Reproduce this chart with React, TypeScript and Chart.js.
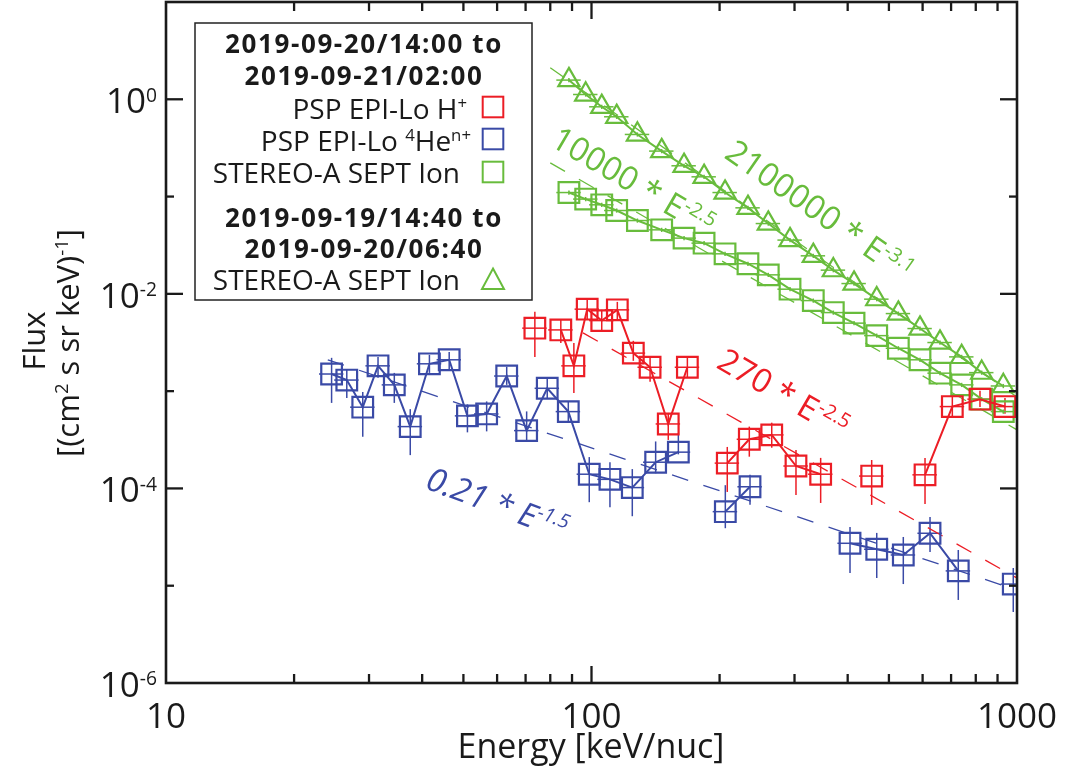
import { useEffect, useRef } from 'react';
import { Chart, registerables } from 'chart.js';

Chart.register(...registerables);

const FONT = '"Open Sans", "Noto Sans", sans-serif';
const BLUE = '#3a4aa6';
const RED = '#ec1d25';
const GREEN = '#68bc3c';
const INK = '#1a1a1a';

// ---------------- PSP EPI-Lo H+ ----------------
const H_ENERGY = [73.6, 84.7, 90.9, 97.7, 105.7, 115.0, 125.4, 137.3, 151.5, 168.0, 208.5, 234.9, 265.2, 302.4, 345.6, 455.5, 607.9, 704.7, 818.5, 937];
const H_FLUX = [4.44e-3, 4.26e-3, 1.82e-3, 6.96e-3, 5.31e-3, 6.85e-3, 2.46e-3, 1.76e-3, 4.6e-4, 1.76e-3, 1.82e-4, 3.2e-4, 3.55e-4, 1.7e-4, 1.4e-4, 1.34e-4, 1.38e-4, 6.94e-4, 8.27e-4, 6.94e-4];
const H_FLUX_HI = [6.53e-3, 5.4e-3, 3.13e-3, 8.68e-3, 6.85e-3, 8.27e-3, 3.29e-3, 2.25e-3, 5.97e-4, 2.2e-3, 2.67e-4, 4.32e-4, 4.74e-4, 2.49e-4, 2.06e-4, 1.96e-4, 2.06e-4, 8.73e-4, 1.01e-3, 8.52e-4];
const H_FLUX_LO = [2.25e-3, 3.13e-3, 9.59e-4, 5.4e-3, 4.07e-3, 5.4e-3, 2.05e-3, 1.25e-3, 3.15e-4, 1.37e-3, 9.2e-5, 2.12e-4, 2.62e-4, 8.57e-5, 7.09e-5, 6.77e-5, 6.93e-5, 5.44e-4, 6.89e-4, 5.84e-4];
const H_GROUP = [0, 1, 1, 1, 1, 1, 1, 1, 1, 1, 2, 2, 2, 2, 2, 3, 4, 4, 4, 4];

// ---------------- PSP EPI-Lo 4He n+ ----------------
const HE_ENERGY = [24.5, 26.6, 29.0, 31.5, 34.4, 37.5, 41.6, 46.3, 51.1, 56.7, 63.2, 70.4, 78.7, 88.2, 98.8, 110.5, 124.7, 141.5, 160.0, 206.3, 235.8, 405.1, 468.1, 540.5, 624.6, 727.8, 980];
const HE_FLUX = [1.5e-3, 1.3e-3, 6.84e-4, 1.82e-3, 1.16e-3, 4.32e-4, 1.91e-3, 2.1e-3, 5.57e-4, 5.83e-4, 1.43e-3, 3.93e-4, 1.07e-3, 6.16e-4, 1.4e-4, 1.24e-4, 1.02e-4, 1.86e-4, 2.36e-4, 5.77e-5, 1.04e-4, 2.73e-5, 2.37e-5, 2.07e-5, 3.46e-5, 1.42e-5, 1.04e-5];
const HE_FLUX_HI = [2.2e-3, 1.65e-3, 9.82e-4, 2.25e-3, 1.54e-3, 6.53e-4, 2.36e-3, 2.53e-3, 7.31e-4, 7.84e-4, 1.78e-3, 6.19e-4, 1.37e-3, 7.84e-4, 2.1e-4, 1.86e-4, 1.58e-4, 3.04e-4, 3.68e-4, 1.08e-4, 1.38e-4, 4.02e-5, 3.49e-5, 3.17e-5, 5.09e-5, 2.33e-5, 1.52e-5];
const HE_FLUX_LO = [7.57e-4, 8.52e-4, 3.39e-4, 1.37e-3, 7.57e-4, 2.2e-4, 1.54e-3, 1.69e-3, 3.77e-4, 3.86e-4, 1.16e-3, 3.04e-4, 8.52e-4, 4.89e-4, 7.22e-5, 6.42e-5, 5.18e-5, 1.43e-4, 2.24e-4, 3.9e-5, 6.81e-5, 1.35e-5, 1.2e-5, 1.04e-5, 2.22e-5, 7.14e-6, 5.37e-6];
const HE_GROUP = [0, 0, 0, 0, 0, 0, 0, 0, 0, 0, 0, 0, 0, 0, 0, 0, 0, 0, 0, 1, 1, 2, 2, 2, 2, 2, 3];

// ---------------- STEREO-A SEPT Ion ----------------
const SEPT_ENERGY = [88.5, 96.9, 105.7, 114.6, 128.2, 146.2, 165.0, 183.9, 206.0, 233.2, 260.3, 292.8, 332.1, 370.1, 414.0, 468.1, 526.2, 591.6, 659.2, 741.3, 826.0, 928.6];
// 2019-09-20/14:00 to 2019-09-21/02:00 (squares)
const SEPT_FLUX_A = [0.11, 0.0942, 0.0823, 0.0719, 0.0567, 0.0455, 0.0374, 0.0332, 0.0258, 0.0204, 0.01568, 0.01117, 8.53e-3, 6.42e-3, 5.0e-3, 3.72e-3, 2.76e-3, 2.1e-3, 1.53e-3, 1.16e-3, 8.27e-4, 6.16e-4];
// 2019-09-19/14:40 to 2019-09-20/06:40 (triangles)
const SEPT_FLUX_B = [1.575, 1.12, 0.837, 0.661, 0.435, 0.2934, 0.2072, 0.1596, 0.11, 0.0766, 0.0528, 0.0357, 0.0246, 0.01753, 0.01276, 8.82e-3, 6.27e-3, 4.4e-3, 3.16e-3, 2.25e-3, 1.55e-3, 1.13e-3];
const SEPT_REL_ERR = 0.05;
const ENERGY_HALF_BIN = 0.066;

// ---------------- power-law fits (end points) ----------------
const FIT_HE_E = [24.0, 1000];
const FIT_HE_F = [2.1e-3, 9.0e-6];
const FIT_H_E = [95.5, 1000];
const FIT_H_F = [3.97e-3, 1.2e-5];
const FIT_A_E = [80, 1000];
const FIT_A_F = [0.222, 4.0e-4];
const FIT_B_E = [80, 1000];
const FIT_B_F = [2.11, 8.7e-4];

// ---------------- axes ----------------
const X_MIN = 10;
const X_MAX = 1000;
const Y_MIN = 1e-6;
const Y_MAX = 10;
const X_TICKS = [10, 20, 30, 40, 50, 60, 70, 80, 90, 100, 200, 300, 400, 500, 600, 700, 800, 900, 1000];
const X_LABELS = [10, 100, 1000];
const Y_EXPONENTS = [1, 0, -1, -2, -3, -4, -5, -6];
const Y_LABEL_EXPONENTS = [0, -2, -4, -6];

type Part = { t: string; sup?: boolean };
type RichOpts = { weight?: string; style?: string; align?: 'left' | 'center' | 'right'; supScale?: number; supRise?: number; spacing?: number };

function fontStr(size: number, o: RichOpts) {
  return `${o.style || 'normal'} ${o.weight || 'normal'} ${size}px ${FONT}`;
}

function richWidth(ctx: CanvasRenderingContext2D, parts: Part[], size: number, o: RichOpts) {
  const ss = o.supScale ?? 0.6;
  let w = 0;
  for (const p of parts) {
    ctx.font = fontStr(p.sup ? size * ss : size, o);
    w += ctx.measureText(p.t).width;
  }
  return w;
}

function drawRich(ctx: CanvasRenderingContext2D, parts: Part[], x: number, y: number, size: number, o: RichOpts = {}) {
  ctx.save();
  (ctx as any).letterSpacing = `${o.spacing ?? 0}px`;
  ctx.textBaseline = 'alphabetic';
  ctx.textAlign = 'left';
  const ss = o.supScale ?? 0.6;
  const rise = o.supRise ?? 0.34;
  const w = richWidth(ctx, parts, size, o);
  let cx = x;
  if (o.align === 'center') cx = x - w / 2;
  if (o.align === 'right') cx = x - w;
  for (const p of parts) {
    const s = p.sup ? size * ss : size;
    ctx.font = fontStr(s, o);
    ctx.fillText(p.t, cx, p.sup ? y - size * rise : y);
    cx += ctx.measureText(p.t).width;
  }
  ctx.restore();
}

function seg(ctx: CanvasRenderingContext2D, x1: number, y1: number, x2: number, y2: number) {
  ctx.beginPath();
  ctx.moveTo(x1, y1);
  ctx.lineTo(x2, y2);
  ctx.stroke();
}

const ANNOTATIONS = [
  { parts: [{ t: '0.21 * E' }, { t: '-1.5', sup: true }], color: BLUE, x: 424, y: 488, angle: 20.6, style: 'italic' },
  { parts: [{ t: '270 * E' }, { t: '-2.5', sup: true }], color: RED, x: 715, y: 367, angle: 30, style: 'normal' },
  { parts: [{ t: '10000 * E' }, { t: '-2.5', sup: true }], color: GREEN, x: 549, y: 145, angle: 30.5, style: 'normal' },
  { parts: [{ t: '2100000 * E' }, { t: '-3.1', sup: true }], color: GREEN, x: 723, y: 157, angle: 35, style: 'normal' },
];

const customPlugin = {
  id: 'customDraw',
  beforeDatasetsDraw(chart: any) {
    const { ctx, chartArea: a } = chart;
    const xs = chart.scales.x;
    const ys = chart.scales.y;
    ctx.save();
    ctx.beginPath();
    ctx.rect(a.left, a.top, a.right - a.left, a.bottom - a.top);
    ctx.clip();
    const bars = (E: number[], F: number[], LO: number[] | null, HI: number[] | null, color: string) => {
      ctx.strokeStyle = color;
      ctx.lineWidth = 1.5;
      E.forEach((e, i) => {
        const px = xs.getPixelForValue(e);
        const py = ys.getPixelForValue(F[i]);
        const lo = LO ? LO[i] : F[i] * (1 - SEPT_REL_ERR);
        const hi = HI ? HI[i] : F[i] * (1 + SEPT_REL_ERR);
        seg(ctx, px, ys.getPixelForValue(lo), px, ys.getPixelForValue(hi));
        seg(ctx, xs.getPixelForValue(e * (1 - ENERGY_HALF_BIN)), py, xs.getPixelForValue(e * (1 + ENERGY_HALF_BIN)), py);
      });
    };
    bars(HE_ENERGY, HE_FLUX, HE_FLUX_LO, HE_FLUX_HI, BLUE);
    bars(H_ENERGY, H_FLUX, H_FLUX_LO, H_FLUX_HI, RED);
    bars(SEPT_ENERGY, SEPT_FLUX_A, null, null, GREEN);
    bars(SEPT_ENERGY, SEPT_FLUX_B, null, null, GREEN);
    ctx.restore();
  },
  afterDraw(chart: any) {
    const { ctx, chartArea: a } = chart;
    const xs = chart.scales.x;
    const ys = chart.scales.y;
    ctx.save();
    ctx.fillStyle = INK;
    ctx.strokeStyle = INK;

    // frame
    ctx.lineWidth = 2.6;
    ctx.strokeRect(a.left, a.top, a.right - a.left, a.bottom - a.top);

    // y ticks
    ctx.lineWidth = 2.3;
    for (const e of Y_EXPONENTS) {
      const py = ys.getPixelForValue(Math.pow(10, e));
      if (py < a.top + 1 || py > a.bottom - 1) continue;
      const len = e % 2 === 0 ? 17 : 8;
      seg(ctx, a.left, py, a.left + len, py);
      seg(ctx, a.right, py, a.right - len, py);
    }
    // x ticks
    for (const v of X_TICKS) {
      const px = xs.getPixelForValue(v);
      if (px < a.left + 1 || px > a.right - 1) continue;
      const len = X_LABELS.includes(v) ? 17 : 9;
      seg(ctx, px, a.bottom, px, a.bottom - len);
      seg(ctx, px, a.top, px, a.top + len);
    }

    // y tick labels
    for (const e of Y_LABEL_EXPONENTS) {
      const py = ys.getPixelForValue(Math.pow(10, e));
      drawRich(ctx, [{ t: '10' }, { t: String(e), sup: true }], 157, py + 14, 35, { align: 'right', supScale: 0.55, supRise: 0.33 });
    }
    // x tick labels
    for (const v of X_LABELS) {
      const px = xs.getPixelForValue(v);
      drawRich(ctx, [{ t: String(v) }], px, a.bottom + 45, 35, { align: 'center' });
    }

    // axis titles
    drawRich(ctx, [{ t: 'Energy [keV/nuc]' }], 591, 758, 34, { align: 'center' });
    ctx.save();
    ctx.translate(45, 341);
    ctx.rotate(-Math.PI / 2);
    drawRich(ctx, [{ t: 'Flux' }], 0, 0, 31, { align: 'center' });
    ctx.restore();
    ctx.save();
    ctx.translate(79, 343);
    ctx.rotate(-Math.PI / 2);
    drawRich(ctx, [{ t: '[(cm' }, { t: '2', sup: true }, { t: ' s sr keV)' }, { t: '-1', sup: true }, { t: ']' }], 0, 0, 31, { align: 'center' });
    ctx.restore();

    // annotations
    for (const an of ANNOTATIONS) {
      ctx.save();
      ctx.fillStyle = an.color;
      ctx.translate(an.x, an.y);
      ctx.rotate((an.angle * Math.PI) / 180);
      drawRich(ctx, an.parts, 0, 0, 33, { style: an.style, supScale: 0.6, supRise: 0.36 });
      ctx.restore();
    }

    // legend
    ctx.fillStyle = '#fff';
    ctx.fillRect(195, 23, 337, 277);
    ctx.lineWidth = 1.5;
    ctx.strokeStyle = '#222';
    ctx.strokeRect(195, 23, 337, 277);
    ctx.fillStyle = INK;
    const bold: RichOpts = { weight: 'bold', align: 'center', spacing: 1.6 };
    drawRich(ctx, [{ t: '2019-09-20/14:00 to' }], 364, 53, 26, bold);
    drawRich(ctx, [{ t: '2019-09-21/02:00' }], 364, 85, 26, bold);
    drawRich(ctx, [{ t: 'PSP EPI-Lo H' }, { t: '+', sup: true }], 467, 119, 28, { align: 'right', supScale: 0.6, supRise: 0.36 });
    drawRich(ctx, [{ t: 'PSP EPI-Lo ' }, { t: '4', sup: true }, { t: 'He' }, { t: 'n+', sup: true }], 471, 151, 28, { align: 'right', supScale: 0.6, supRise: 0.36 });
    drawRich(ctx, [{ t: 'STEREO-A SEPT Ion' }], 460, 183, 28, { align: 'right' });
    drawRich(ctx, [{ t: '2019-09-19/14:40 to' }], 364, 227, 26, bold);
    drawRich(ctx, [{ t: '2019-09-20/06:40' }], 364, 258, 26, bold);
    drawRich(ctx, [{ t: 'STEREO-A SEPT Ion' }], 460, 290, 28, { align: 'right' });

    const sq = (cx: number, cy: number, color: string) => {
      ctx.strokeStyle = color;
      ctx.lineWidth = 2;
      ctx.strokeRect(cx - 10.3, cy - 10.3, 20.6, 20.6);
    };
    sq(493, 107, RED);
    sq(493, 139, BLUE);
    sq(493, 172, GREEN);
    ctx.strokeStyle = GREEN;
    ctx.lineWidth = 2;
    ctx.beginPath();
    ctx.moveTo(493, 268.5);
    ctx.lineTo(504, 289);
    ctx.lineTo(482, 289);
    ctx.closePath();
    ctx.stroke();

    ctx.restore();
  },
};

function seriesDataset(E: number[], F: number[], color: string, style: string, radius: number, group?: number[]) {
  return {
    data: E.map((e, i) => ({ x: e, y: F[i] })),
    showLine: true,
    borderColor: color,
    borderWidth: 2,
    pointStyle: style,
    pointRadius: radius,
    pointBorderWidth: 2.2,
    pointBorderColor: color,
    pointBackgroundColor: 'rgba(0,0,0,0)',
    segment: group
      ? { borderColor: (c: any) => (group[c.p0DataIndex] === group[c.p1DataIndex] ? undefined : 'rgba(0,0,0,0)') }
      : undefined,
  };
}

function fitDataset(E: number[], F: number[], color: string) {
  return {
    data: E.map((e, i) => ({ x: e, y: F[i] })),
    showLine: true,
    borderColor: color,
    borderWidth: 1.3,
    borderDash: [17, 16],
    pointRadius: 0,
  };
}

export default function App() {
  const ref = useRef<HTMLCanvasElement>(null);
  useEffect(() => {
    if (!ref.current) return;
    const chart = new Chart(ref.current, {
      type: 'scatter',
      data: {
        datasets: [
          seriesDataset(H_ENERGY, H_FLUX, RED, 'rect', 14.6, H_GROUP),
          seriesDataset(HE_ENERGY, HE_FLUX, BLUE, 'rect', 14.6, HE_GROUP),
          seriesDataset(SEPT_ENERGY, SEPT_FLUX_A, GREEN, 'rect', 14.6),
          seriesDataset(SEPT_ENERGY, SEPT_FLUX_B, GREEN, 'triangle', 12.2),
          fitDataset(FIT_H_E, FIT_H_F, RED),
          fitDataset(FIT_HE_E, FIT_HE_F, BLUE),
          fitDataset(FIT_A_E, FIT_A_F, GREEN),
          fitDataset(FIT_B_E, FIT_B_F, GREEN),
        ] as any,
      },
      options: {
        animation: false,
        responsive: false,
        maintainAspectRatio: false,
        layout: { autoPadding: false, padding: { left: 166, top: 2, right: 64, bottom: 90 } },
        scales: {
          x: { type: 'logarithmic', min: X_MIN, max: X_MAX, display: false },
          y: { type: 'logarithmic', min: Y_MIN, max: Y_MAX, display: false },
        },
        plugins: { legend: { display: false }, tooltip: { enabled: false } },
      },
      plugins: [customPlugin],
    });
    return () => chart.destroy();
  }, []);
  return (
    <div style={{ position: 'absolute', left: 0, top: 0, width: 1081, height: 773, background: '#fff' }}>
      <canvas ref={ref} width={1081} height={773} style={{ width: 1081, height: 773, display: 'block' }} />
    </div>
  );
}
